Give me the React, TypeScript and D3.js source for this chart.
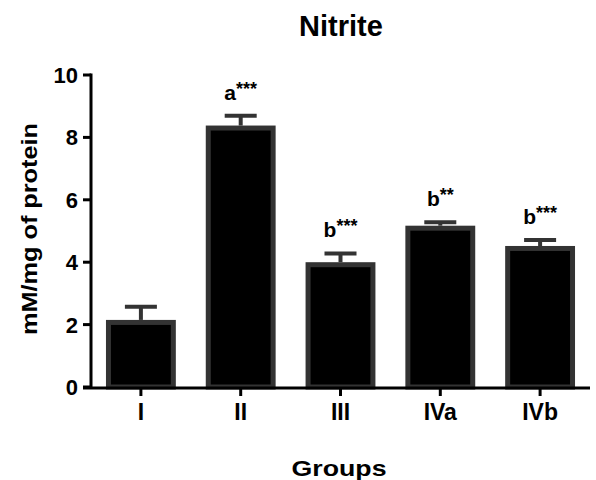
import React from "react";
import * as d3 from "d3";

const categories = ["I", "II", "III", "IVa", "IVb"];
const means = [2.15, 8.38, 4.0, 5.17, 4.52];
const errors = [0.42, 0.31, 0.28, 0.11, 0.19];
const letters = ["", "a", "b", "b", "b"];
const stars = ["", "***", "***", "**", "***"];
const yTicks = [0, 2, 4, 6, 8, 10];

const W = 596, H = 480;
const m = { left: 91, right: 6, top: 75, bottom: 93 };

export default function App() {
  const x = d3.scaleBand<string>().domain(categories).range([m.left, W - m.right]).paddingInner(0.3).paddingOuter(0.15);
  const y = d3.scaleLinear().domain([0, 10]).range([H - m.bottom, m.top]);
  const font = "'Liberation Sans', Arial, sans-serif";
  const sw = 5;
  const capW = 32;
  return (
    <svg width={W} height={H} style={{ position: "absolute", left: 0, top: 0 }} fontFamily={font}>
      <rect x={0} y={0} width={W} height={H} fill="#fff" />
      <text x={341} y={36} textAnchor="middle" fontSize={29} fontWeight="bold">Nitrite</text>
      {categories.map((c, i) => {
        const bx = x(c)!;
        const bw = x.bandwidth();
        const cx = bx + bw / 2;
        const top = y(means[i]);
        const capY = y(means[i] + errors[i]);
        return (
          <g key={c}>
            <line x1={cx} x2={cx} y1={top} y2={capY} stroke="#333" strokeWidth={4} />
            <line x1={cx - capW / 2} x2={cx + capW / 2} y1={capY} y2={capY} stroke="#333" strokeWidth={4} />
            <rect x={bx + sw / 2} y={top + sw / 2} width={bw - sw} height={y(0) - top - sw / 2} fill="#000" stroke="#333" strokeWidth={sw} />
            {letters[i] && (
              <text x={cx} y={capY - 16} textAnchor="middle" fontSize={21} fontWeight="bold">
                {letters[i]}
                <tspan fontSize={18} dy={-5}>{stars[i]}</tspan>
              </text>
            )}
          </g>
        );
      })}
      {/* y axis */}
      <line x1={m.left} x2={m.left} y1={y(10) - 1.5} y2={y(0) + 1.5} stroke="#000" strokeWidth={3} />
      {yTicks.map((t) => (
        <g key={t}>
          <line x1={m.left - 8} x2={m.left} y1={y(t)} y2={y(t)} stroke="#000" strokeWidth={3} />
          <text x={78} y={y(t)} dy="0.36em" textAnchor="end" fontSize={22} fontWeight="bold">{t}</text>
        </g>
      ))}
      {/* x axis */}
      <line x1={m.left - 8} x2={W - m.right} y1={y(0) + 1} y2={y(0) + 1} stroke="#000" strokeWidth={3} />
      {categories.map((c) => {
        const cx = x(c)! + x.bandwidth() / 2;
        return (
          <g key={c}>
            <line x1={cx} x2={cx} y1={y(0)} y2={y(0) + 9} stroke="#000" strokeWidth={3} />
            <text x={cx} y={420} textAnchor="middle" fontSize={23} fontWeight="bold">{c}</text>
          </g>
        );
      })}
      <text x={339} y={476} textAnchor="middle" fontSize={22} fontWeight="bold" textLength={95} lengthAdjust="spacingAndGlyphs">Groups</text>
      <text transform={`translate(37, ${229}) rotate(-90)`} textAnchor="middle" fontSize={22} fontWeight="bold" textLength={212} lengthAdjust="spacingAndGlyphs">mM/mg of protein</text>
    </svg>
  );
}
